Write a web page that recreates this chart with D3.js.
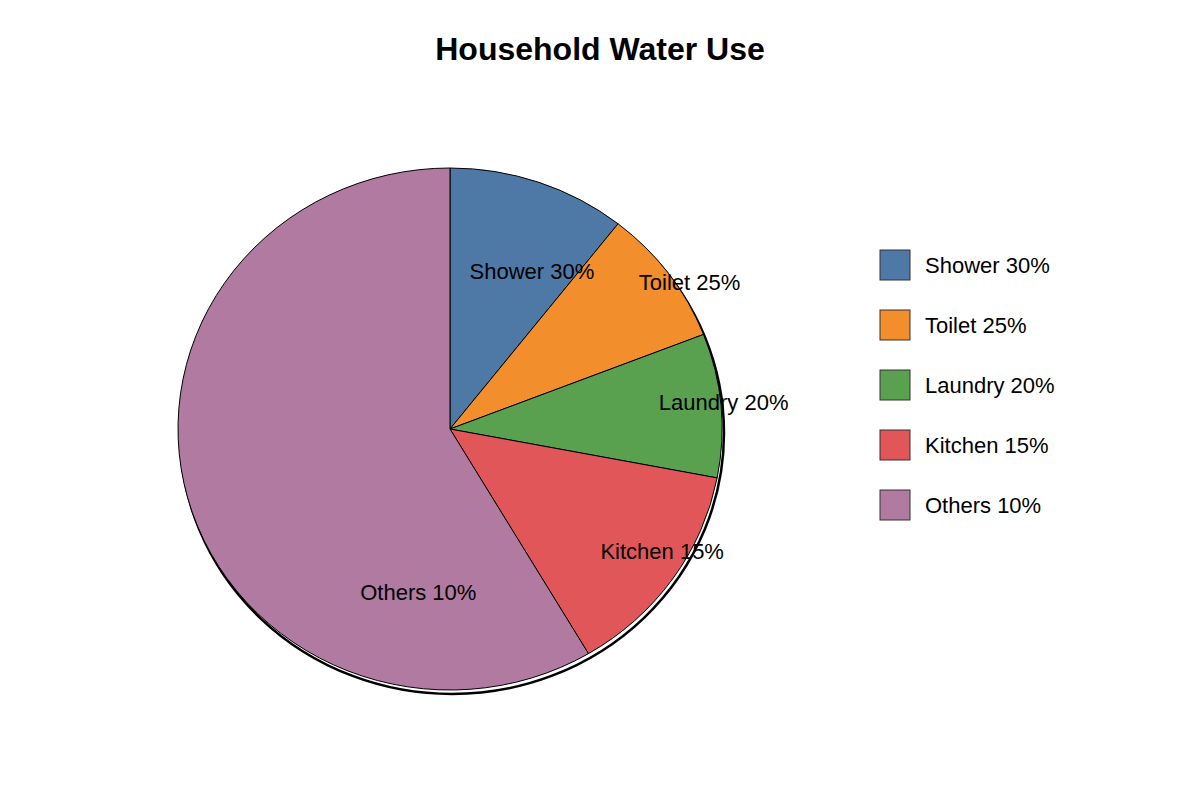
<!DOCTYPE html>
<html>
<head>
<meta charset="utf-8">
<script src="https://cdn.jsdelivr.net/npm/d3@7"></script>
<style>
  body { margin: 0; background: #fff; }
  text { font-family: "Liberation Sans", Arial, sans-serif; }
</style>
</head>
<body>
<svg id="chart" width="1200" height="800"></svg>
<script>
// categories and what the labels say
var categories = ["Shower", "Toilet", "Laundry", "Kitchen", "Others"];
var labelPercents = [30, 25, 20, 15, 10];
// slice sizes as drawn in the picture (share of the circle, %)
var sliceValues = [10.6, 8.5, 8.9, 13.5, 58.5];
var colors = ["#4e79a7", "#f28e2b", "#59a14f", "#e15759", "#b07aa1"];

// where each slice label sits: [angle in degrees clockwise from top, radius]
var labelSpots = [[27.4, 178], [58.5, 281], [84.4, 275], [120, 245], [191, 166]];

var data = categories.map(function(c, i) {
  return { name: c, value: sliceValues[i], label: c + " " + labelPercents[i] + "%", color: colors[i] };
});

var svg = d3.select("#chart");

svg.append("text")
  .attr("x", 600)
  .attr("y", 60)
  .attr("text-anchor", "middle")
  .style("font-size", "32px")
  .style("font-weight", "bold")
  .text("Household Water Use");

var cx = 450, cy = 429, rx = 272, ry = 261;
var r = ry;

var pie = d3.pie().sort(null).value(function(d) { return d.value; });
var arc = d3.arc().innerRadius(0).outerRadius(r);
var arcs = pie(data);

// shadow outline behind the pie
var shadow = svg.append("g")
  .attr("transform", "translate(" + (cx + 2) + "," + (cy + 4) + ") scale(" + (rx / ry) + ",1)");
shadow.append("path")
  .attr("d", d3.arc().innerRadius(0).outerRadius(r).startAngle(0).endAngle(2 * Math.PI)())
  .attr("fill", "#fff")
  .attr("stroke", "#000")
  .attr("stroke-width", 2.5)
  .attr("vector-effect", "non-scaling-stroke");

var g = svg.append("g")
  .attr("transform", "translate(" + cx + "," + cy + ") scale(" + (rx / ry) + ",1)");

g.selectAll("path.slice")
  .data(arcs)
  .enter()
  .append("path")
  .attr("class", "slice")
  .attr("d", arc)
  .attr("fill", function(d) { return d.data.color; })
  .attr("stroke", "#000")
  .attr("stroke-width", 1)
  .attr("vector-effect", "non-scaling-stroke");

// labels
svg.selectAll("text.slabel")
  .data(arcs)
  .enter()
  .append("text")
  .attr("class", "slabel")
  .attr("x", function(d, i) { return cx + labelSpots[i][1] * Math.sin(labelSpots[i][0] * Math.PI / 180); })
  .attr("y", function(d, i) { return cy - labelSpots[i][1] * Math.cos(labelSpots[i][0] * Math.PI / 180); })
  .attr("text-anchor", "middle")
  .attr("dy", "0.35em")
  .style("font-size", "22px")
  .attr("fill", "#000")
  .text(function(d) { return d.data.label; });

// legend
var legend = svg.append("g").attr("transform", "translate(880,250)");
var items = legend.selectAll("g")
  .data(data)
  .enter()
  .append("g")
  .attr("transform", function(d, i) { return "translate(0," + (i * 60) + ")"; });

items.append("rect")
  .attr("width", 30)
  .attr("height", 30)
  .attr("fill", function(d) { return d.color; })
  .attr("stroke", "#333")
  .attr("stroke-width", 1);

items.append("text")
  .attr("x", 45)
  .attr("y", 15)
  .attr("dy", "0.35em")
  .style("font-size", "22px")
  .attr("fill", "#000")
  .text(function(d) { return d.label; });
</script>
</body>
</html>
